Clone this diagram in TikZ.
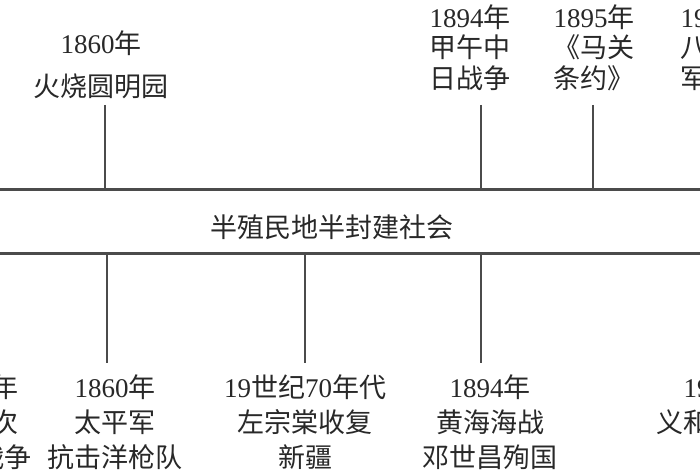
\documentclass[tikz,border=0pt]{standalone}
\usepackage{fontspec}
\setmainfont{Liberation Serif}
\newfontfamily\cjk{Noto Sans CJK SC}
\definecolor{linec}{RGB}{75,75,75}
\definecolor{txtc}{RGB}{40,40,40}
\newcommand{\yr}[1]{{\rmfamily #1}}
\begin{document}
\begin{tikzpicture}[x=1pt,y=-1pt,
  lbl/.style={align=center,inner sep=0pt,text=txtc,font=\cjk\fontsize{27}{35}\selectfont},
  tight/.style={font=\cjk\fontsize{27}{30.5}\selectfont},
  loose/.style={font=\cjk\fontsize{27}{43}\selectfont},
  bandline/.style={draw=linec,line width=3pt},
  tickline/.style={draw=linec,line width=2.2pt}]
\useasboundingbox (0,0) rectangle (700,470);
\fill[white] (0,0) rectangle (700,470);
% band
\coordinate (bandTL) at (-5,190);
\coordinate (bandTR) at (705,190);
\coordinate (bandBL) at (-5,253);
\coordinate (bandBR) at (705,253);
\draw[bandline] (bandTL) -- (bandTR);
\draw[bandline] (bandBL) -- (bandBR);
\node[lbl] (era) at (332,227) {半殖民地半封建社会};
% top labels
\node[lbl,loose] (t1860) at (101,64.5) {\yr{1860}年\\火烧圆明园};
\node[lbl,tight] (t1894) at (470,47.5) {\yr{1894}年\\甲午中\\日战争};
\node[lbl,tight] (t1895) at (594,47.5) {\yr{1895}年\\《马关\\条约》};
\node[lbl,tight] (t1900) at (721,47.5) {\yr{1900}年\\八国联\\军侵华};
% bottom labels
\node[lbl] (b1856) at (-22,422) {\yr{1856}年\\第二次\\鸦片战争};
\node[lbl] (b1860) at (115,422) {\yr{1860}年\\太平军\\抗击洋枪队};
\node[lbl] (b1870) at (305,422) {\yr{19}世纪\yr{70}年代\\左宗棠收复\\新疆};
\node[lbl] (b1894) at (490,422) {\yr{1894}年\\黄海海战\\邓世昌殉国};
\node[lbl] (b1900) at (724,404.5) {\yr{1900}年\\义和团运动};
% ticks
\coordinate (tt1) at (105,105); \coordinate (tb1) at (105,190);
\coordinate (tt2) at (481,105); \coordinate (tb2) at (481,190);
\coordinate (tt3) at (593,105); \coordinate (tb3) at (593,190);
\coordinate (bt1) at (107,253); \coordinate (bb1) at (107,363);
\coordinate (bt2) at (305,253); \coordinate (bb2) at (305,363);
\coordinate (bt3) at (481,253); \coordinate (bb3) at (481,363);
\draw[tickline] (tt1) -- (tb1);
\draw[tickline] (tt2) -- (tb2);
\draw[tickline] (tt3) -- (tb3);
\draw[tickline] (bt1) -- (bb1);
\draw[tickline] (bt2) -- (bb2);
\draw[tickline] (bt3) -- (bb3);
\end{tikzpicture}
\end{document}
